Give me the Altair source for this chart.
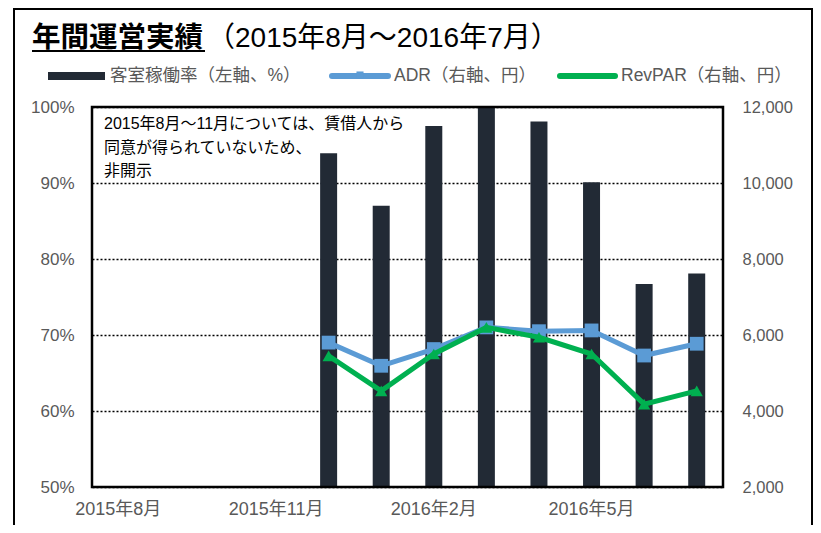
import altair as alt
import pandas as pd

months = ["2015年8月", "2015年9月", "2015年10月", "2015年11月", "2015年12月", "2016年1月",
          "2016年2月", "2016年3月", "2016年4月", "2016年5月", "2016年6月", "2016年7月"]
occupancy = [None, None, None, None, 0.939, 0.870, 0.975, 1.000, 0.981, 0.901, 0.767, 0.781]
adr = [None, None, None, None, 5800, 5190, 5630, 6200, 6100, 6120, 5460, 5770]
revpar = [None, None, None, None, 5450, 4530, 5500, 6200, 5940, 5500, 4180, 4530]
tick_months = ["2015年8月", "2015年11月", "2016年2月", "2016年5月"]

title_bold = "年間運営実績"
title_rest = "（2015年8月～2016年7月）"
legend_labels = ["客室稼働率（左軸、%）", "ADR（右軸、円）", "RevPAR（右軸、円）"]
note_lines = ["2015年8月～11月については、賃借人から", "同意が得られていないため、", "非開示"]

df = pd.DataFrame({"month": months, "occ": occupancy, "adr": adr, "revpar": revpar})

FONT = "Liberation Sans, Noto Sans CJK JP"
GRAY = "#595959"
BAR = "#222A35"
BLUE = "#5B9BD5"
GREEN = "#00B050"

xscale = alt.Scale(domain=months, paddingInner=0, paddingOuter=0)
xenc = alt.X("month:N", sort=months, title=None, scale=xscale,
             axis=alt.Axis(values=tick_months, labelAngle=0, ticks=False, domain=False,
                           labelFont=FONT, labelFontSize=18, labelColor=GRAY, labelPadding=13,
                           grid=False))
xplain = alt.X("month:N", sort=months, scale=xscale, title=None)

base = alt.Chart(df)

bars = base.transform_filter("isValid(datum.occ)").mark_bar(size=17, color=BAR, clip=True).encode(
    x=xenc,
    y=alt.Y("occ:Q", title=None,
            scale=alt.Scale(domain=[0.5, 1.0], zero=False),
            axis=alt.Axis(values=[0.5, 0.6, 0.7, 0.8, 0.9, 1.0], format=".0%", orient="left",
                          ticks=False, domain=False, labelFont=FONT, labelFontSize=17,
                          labelColor=GRAY, labelPadding=18,
                          grid=True, gridColor="black", gridDash=[2, 2], gridWidth=1.5)),
)

yr = alt.Scale(domain=[2000, 12000])
yaxis_r = alt.Axis(values=[2000, 4000, 6000, 8000, 10000, 12000], format=",.0f", orient="right",
                   ticks=False, domain=False, labelFont=FONT, labelFontSize=16.5,
                   labelColor=GRAY, labelPadding=19, grid=False)

adr_line = base.transform_filter("isValid(datum.adr)").mark_line(
    color=BLUE, strokeWidth=5).encode(x=xplain, y=alt.Y("adr:Q", scale=yr, axis=yaxis_r, title=None))
adr_pts = base.transform_filter("isValid(datum.adr)").mark_point(
    shape="square", filled=True, size=190, color=BLUE, opacity=1).encode(
    x=xplain, y=alt.Y("adr:Q", scale=yr, axis=yaxis_r, title=None))
rev_line = base.transform_filter("isValid(datum.revpar)").mark_line(
    color=GREEN, strokeWidth=5).encode(x=xplain, y=alt.Y("revpar:Q", scale=yr, axis=yaxis_r, title=None))
rev_pts = base.transform_filter("isValid(datum.revpar)").mark_point(
    shape="triangle-up", filled=True, size=150, color=GREEN, opacity=1).encode(
    x=xplain, y=alt.Y("revpar:Q", scale=yr, axis=yaxis_r, title=None))

right_layer = alt.layer(adr_line, adr_pts, rev_line, rev_pts)

one = pd.DataFrame({"a": [0]})


def txt(text, x, y, size=17.5, color=GRAY, weight="normal", baseline="middle", **kw):
    return alt.Chart(one).mark_text(text=text, align="left", baseline=baseline, font=FONT,
                                    fontSize=size, color=color, fontWeight=weight, **kw).encode(
        x=alt.value(x), y=alt.value(y))


title1 = txt(title_bold, -60, -60, size=28.5, color="black", weight="bold", baseline="alphabetic")
title2 = txt(title_rest, 115, -60, size=28, color="black", baseline="alphabetic")
underline = alt.Chart(one).mark_rule(color="black", strokeWidth=2).encode(
    x=alt.value(-60), x2=alt.value(113), y=alt.value(-56))

leg_rect = alt.Chart(one).mark_rect(color=BAR).encode(
    x=alt.value(-44), x2=alt.value(13), y=alt.value(-35), y2=alt.value(-27))
leg_t1 = txt(legend_labels[0], 18, -31)
leg_adr = alt.Chart(one).mark_rule(color=BLUE, strokeWidth=6, strokeCap="round").encode(
    x=alt.value(240), x2=alt.value(296), y=alt.value(-31))
leg_adr_pt = alt.Chart(one).mark_point(shape="square", filled=True, size=50, color=BLUE, opacity=1).encode(
    x=alt.value(268), y=alt.value(-32))
leg_t2 = txt(legend_labels[1], 302, -31)
leg_rev = alt.Chart(one).mark_rule(color=GREEN, strokeWidth=6, strokeCap="round").encode(
    x=alt.value(468), x2=alt.value(523), y=alt.value(-31))
leg_t3 = txt(legend_labels[2], 529, -31)

note = alt.Chart(one).mark_text(text=note_lines, align="left", baseline="middle", font=FONT,
                                fontSize=16, color="black", lineHeight=23.5).encode(
    x=alt.value(12), y=alt.value(17))

frame = alt.Chart(one).mark_rect(fill=None, stroke="black", strokeWidth=2.5).encode(
    x=alt.value(0), x2=alt.value(631), y=alt.value(0), y2=alt.value(380))

border = alt.Chart(one).mark_rect(fill=None, stroke="black", strokeWidth=2).encode(
    x=alt.value(-78), x2=alt.value(720), y=alt.value(-98), y2=alt.value(460))

chart = alt.layer(
    bars, right_layer, frame, border, title1, title2, underline,
    leg_rect, leg_t1, leg_adr, leg_adr_pt, leg_t2, leg_rev, leg_t3, note
).resolve_scale(y="independent").properties(
    width=631, height=380,
    autosize=alt.AutoSizeParams(type="none"),
    padding={"left": 84, "top": 99, "right": 90, "bottom": 38},
).configure_view(stroke=None).configure(background="white")

chart.save("out.html", embed_options={"renderer": "svg", "actions": False})
